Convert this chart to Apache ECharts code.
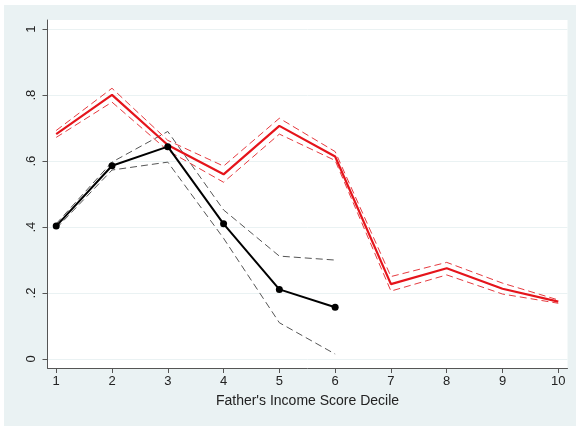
<!DOCTYPE html>
<html>
<head>
<meta charset="utf-8">
<script src="https://cdn.jsdelivr.net/npm/echarts@6/dist/echarts.min.js"></script>
<style>
html,body{margin:0;padding:0;background:#fff;}
#wrap{position:relative;width:576px;height:426px;background:#fff;}
#bg{position:absolute;left:4px;top:5px;width:572px;height:421px;background:#eaf2f3;}
#chart{position:absolute;left:0;top:0;width:576px;height:426px;}
</style>
</head>
<body>
<div id="wrap"><div id="bg"></div><div id="chart"></div></div>
<script>
// Data
const deciles = [1, 2, 3, 4, 5, 6, 7, 8, 9, 10];
const redMean  = [0.682, 0.801, 0.649, 0.560, 0.707, 0.614, 0.227, 0.275, 0.213, 0.174];
const redUpper = [0.693, 0.821, 0.663, 0.585, 0.730, 0.629, 0.250, 0.293, 0.230, 0.179];
const redLower = [0.672, 0.779, 0.632, 0.536, 0.682, 0.602, 0.206, 0.255, 0.197, 0.169];
const blackMean  = [0.403, 0.586, 0.644, 0.410, 0.211, 0.157];
const blackUpper = [0.410, 0.597, 0.690, 0.452, 0.312, 0.300];
const blackLower = [0.396, 0.573, 0.597, 0.366, 0.110, 0.015];
const yTicks = [0, 0.2, 0.4, 0.6, 0.8, 1];
const yTickLabels = ['0', '.2', '.4', '.6', '.8', '1'];
const xTitle = "Father's Income Score Decile";

function pairs(ys) { return ys.map((y, i) => [deciles[i], y]); }

const RED = '#e5141b';
const FONT = 'Liberation Sans, Arial, sans-serif';
const chart = echarts.init(document.getElementById('chart'), null, {renderer: 'canvas'});

function dashed(name, ys, color) {
  return {
    name, type: 'line', data: pairs(ys), showSymbol: false, symbol: 'none',
    lineStyle: {color, width: 1, type: [7, 4]}, silent: true, z: 2
  };
}

chart.setOption({
  animation: false,
  backgroundColor: 'transparent',
  grid: {
    left: 47.5, right: 8.5, top: 20, bottom: 58,
    show: true, backgroundColor: '#ffffff', borderWidth: 0
  },
  xAxis: {
    type: 'value', min: 0.844, max: 10.165,
    name: xTitle, nameLocation: 'middle', nameGap: 26,
    nameTextStyle: {fontFamily: FONT, fontSize: 14, color: '#222'},
    axisLine: {show: true, onZero: false, lineStyle: {color: '#555', width: 1}},
    axisTick: {show: true, length: 5, customValues: deciles, lineStyle: {color: '#555'}},
    axisLabel: {customValues: deciles, margin: 7, fontFamily: FONT, fontSize: 13, color: '#222'},
    splitLine: {show: false}
  },
  yAxis: {
    type: 'value', min: -0.0273, max: 1.028,
    axisLine: {show: true, onZero: false, lineStyle: {color: '#555', width: 1}},
    axisTick: {show: true, length: 5, customValues: yTicks, lineStyle: {color: '#555'}},
    axisLabel: {
      customValues: yTicks, rotate: 90, margin: 10,
      fontFamily: FONT, fontSize: 13, color: '#222',
      formatter: v => { const i = yTicks.findIndex(t => Math.abs(t - v) < 1e-9); return i >= 0 ? yTickLabels[i] : ''; }
    },
    splitLine: {show: true, lineStyle: {color: '#eaf2f3', width: 1}}
  },
  series: [
    dashed('redUpper', redUpper, '#e63a3f'),
    dashed('redLower', redLower, '#e63a3f'),
    {
      name: 'red', type: 'line', data: pairs(redMean), showSymbol: false, symbol: 'none',
      lineStyle: {color: RED, width: 2.2}, z: 3
    },
    dashed('blackUpper', blackUpper, '#555555'),
    dashed('blackLower', blackLower, '#555555'),
    {
      name: 'black', type: 'line', data: pairs(blackMean), symbol: 'circle', symbolSize: 7, showSymbol: true,
      itemStyle: {color: '#000'}, lineStyle: {color: '#000', width: 2}, z: 4
    }
  ]
});
</script>
</body>
</html>
